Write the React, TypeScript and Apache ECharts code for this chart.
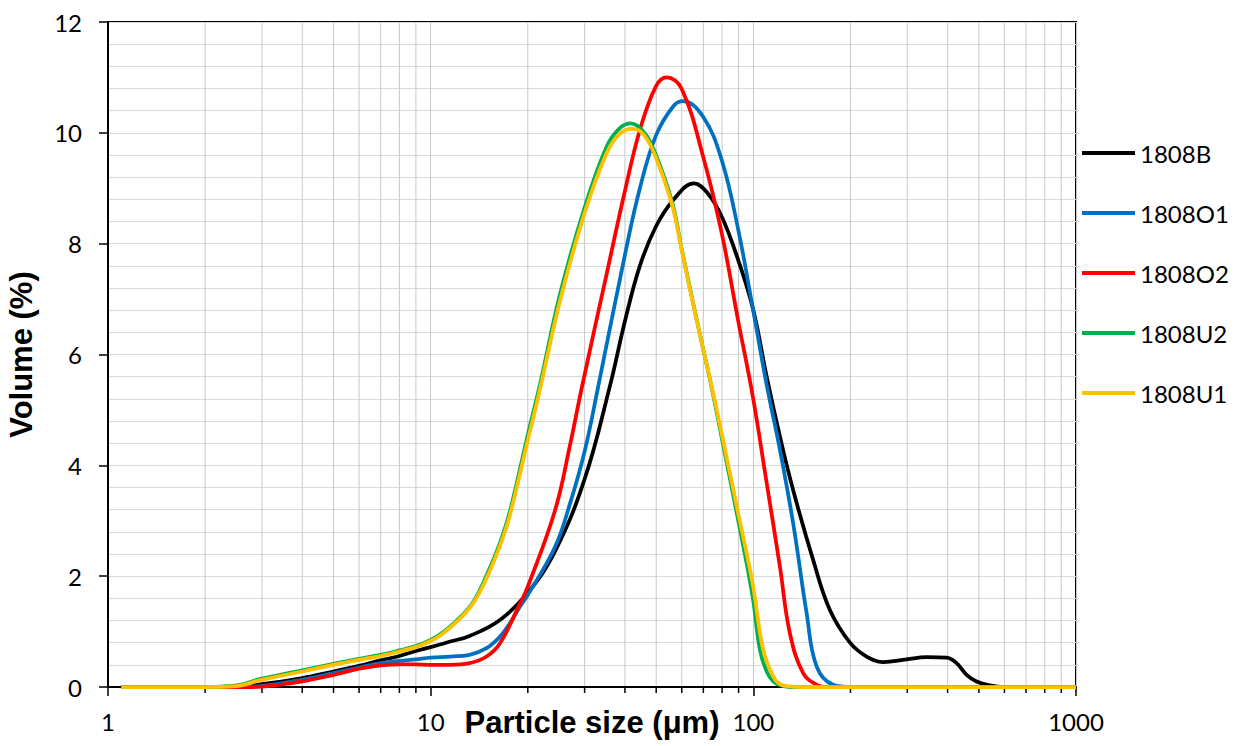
import React, { useEffect, useRef } from "react";
import * as echarts from "echarts";

// Particle size (µm) sample points and volume (%) values
const seriesNames = ["1808B", "1808O1", "1808O2", "1808U2", "1808U1"];
const seriesColors = ["#000000", "#0070C0", "#FF0000", "#00B050", "#FFC000"];

const sizes1808B = [1.1, 2.0, 2.44, 3.0, 4.0, 5.0, 6.0, 7.0, 8.0, 9.0, 10, 11.5, 13.2, 16.4, 20, 24.3, 30, 35.9, 40, 44.5, 49.9, 56.5, 65.5, 72, 79.8, 89.8, 100, 110, 120.9, 132.9, 153.3, 172.7, 199.3, 224.4, 252.7, 298.5, 344.4, 397.2, 426.6, 458.1, 492, 541, 600, 1000];
const values1808B = [0, 0, 0.01, 0.05, 0.16, 0.28, 0.38, 0.48, 0.56, 0.65, 0.72, 0.82, 0.92, 1.21, 1.7, 2.45, 3.75, 5.42, 6.6, 7.6, 8.31, 8.79, 9.09, 8.92, 8.49, 7.7, 6.8, 5.6, 4.52, 3.55, 2.29, 1.39, 0.8, 0.55, 0.45, 0.5, 0.54, 0.53, 0.43, 0.22, 0.1, 0.03, 0, 0];

const sizes1808O1 = [1.1, 2.0, 2.6, 3.0, 4.0, 5.0, 6.0, 7.0, 8.0, 9.0, 10, 11.5, 13.2, 14.9, 16.4, 17.6, 18.9, 20, 24.3, 27, 30, 33, 40, 44.5, 49.9, 56.5, 60.6, 69.9, 79.8, 89.8, 100, 110, 120.9, 132.9, 146.3, 157.1, 176.8, 200, 1000];
const values1808O1 = [0, 0, 0, 0.02, 0.13, 0.25, 0.35, 0.43, 0.47, 0.5, 0.53, 0.55, 0.58, 0.7, 0.91, 1.15, 1.45, 1.66, 2.53, 3.3, 4.25, 5.4, 7.8, 9.0, 9.95, 10.48, 10.57, 10.29, 9.51, 8.25, 6.78, 5.45, 4.28, 2.95, 1.33, 0.37, 0.04, 0, 0];

const sizes1808O2 = [1.1, 2.0, 2.8, 3.3, 4.0, 5.0, 6.0, 7.0, 8.0, 9.0, 10, 11.5, 13.2, 14.9, 16.4, 18.9, 20, 24.3, 27, 29.4, 35.1, 40, 44.5, 49.9, 53.9, 59.9, 69.9, 79.8, 89.8, 99.5, 110, 120.9, 129.8, 142.7, 157.1, 170, 1000];
const values1808O2 = [0, 0, 0, 0.03, 0.1, 0.22, 0.33, 0.39, 0.41, 0.41, 0.4, 0.4, 0.43, 0.55, 0.79, 1.5, 1.81, 3.19, 4.35, 5.4, 7.45, 8.95, 10.05, 10.84, 11.0, 10.8, 9.57, 8.19, 6.6, 5.26, 3.68, 2.17, 0.97, 0.25, 0.04, 0, 0];

const sizes1808U2 = [1.1, 2.0, 2.44, 3.0, 4.0, 5.0, 6.0, 7.0, 8.0, 9.0, 10, 10.7, 12, 13.5, 15, 16.4, 17.6, 20, 21.8, 25.2, 30, 35.1, 38.5, 41.7, 46, 49.9, 56, 59.9, 66, 69.9, 74.3, 79.8, 89.8, 99.5, 104.8, 110, 115.3, 120.9, 130, 1000];
const values1808U2 = [0, 0, 0.02, 0.15, 0.3, 0.42, 0.51, 0.58, 0.66, 0.74, 0.85, 0.95, 1.19, 1.52, 2.05, 2.6, 3.17, 4.55, 5.45, 7.1, 8.65, 9.75, 10.08, 10.17, 10.0, 9.6, 8.75, 7.92, 6.76, 6.1, 5.4, 4.5, 3.0, 1.63, 0.67, 0.28, 0.1, 0.03, 0, 0];

const sizes1808U1 = [1.1, 2.0, 2.44, 3.0, 4.0, 5.0, 6.0, 7.0, 8.0, 9.0, 10, 10.7, 12, 13.5, 15, 16.4, 17.6, 20, 21.8, 25.2, 30, 35.1, 38.5, 42.4, 46, 49.9, 56, 59.9, 66, 69.9, 74.3, 79.8, 89.8, 99.5, 107.3, 115.3, 120.9, 130, 140, 1000];
const values1808U1 = [0, 0, 0.01, 0.13, 0.28, 0.4, 0.49, 0.56, 0.64, 0.72, 0.83, 0.93, 1.17, 1.5, 2.0, 2.55, 3.1, 4.45, 5.36, 6.98, 8.55, 9.63, 9.98, 10.07, 9.95, 9.55, 8.7, 7.9, 6.75, 6.1, 5.42, 4.57, 3.13, 1.87, 0.67, 0.19, 0.05, 0.01, 0, 0];

const allSizes = [sizes1808B, sizes1808O1, sizes1808O2, sizes1808U2, sizes1808U1];
const allValues = [values1808B, values1808O1, values1808O2, values1808U2, values1808U1];

// log-axis minor gridline positions (2..9 in each decade)
const decades = [1, 10, 100];
const minorMultipliers = [2, 3, 4, 5, 6, 7, 8, 9];

export default function App() {
  const ref = useRef<HTMLDivElement>(null);

  useEffect(() => {
    if (!ref.current) return;
    const chart = echarts.init(ref.current, undefined, { renderer: "svg" });

    const minorTicks: number[][] = [];
    decades.forEach((d) => minorMultipliers.forEach((m) => minorTicks.push([d * m, 0])));

    const lineSeries = seriesNames.map((name, i) => ({
      name,
      type: "line",
      smooth: 0.4,
      symbol: "none",
      showSymbol: false,
      z: 3 + i,
      data: allSizes[i].map((s, j) => [s, allValues[i][j]]),
      lineStyle: { color: seriesColors[i], width: 3.75 },
      itemStyle: { color: seriesColors[i] },
    }));

    const option: any = {
      animation: false,
      backgroundColor: "#ffffff",
      grid: {
        left: 108,
        right: 164,
        top: 22,
        bottom: 59,
        containLabel: false,
        outerBoundsMode: "none",
        show: true,
        borderColor: "#000",
        borderWidth: 2,
        backgroundColor: "transparent",
      },
      legend: {
        orient: "vertical",
        left: 1077,
        top: 136,
        itemWidth: 53,
        itemHeight: 4,
        itemGap: 36,
        icon: "rect",
        data: seriesNames,
        textStyle: { fontFamily: "Lato", fontSize: 24, color: "#000" },
      },
      xAxis: {
        type: "log",
        logBase: 10,
        min: 1,
        max: 1000,
        interval: 1,
        name: "Particle size (μm)",
        nameLocation: "middle",
        nameGap: 20,
        nameMoveOverlap: false,
        nameTextStyle: {
          fontFamily: "Liberation Sans",
          fontWeight: "bold",
          fontSize: 31,
          color: "#000",
        },
        axisLine: { show: true, lineStyle: { color: "#000", width: 2 } },
        axisTick: { show: true, length: 9, lineStyle: { color: "#000", width: 1.5 } },
        axisLabel: {
          margin: 22,
          fontFamily: "Lato",
          fontSize: 24,
          color: "#000",
          showMinLabel: true,
          showMaxLabel: true,
          formatter: (v: number) => String(Math.round(v)),
        },
        splitLine: { show: true, lineStyle: { color: "#c8c8c8", width: 1 } },
        minorTick: { show: false },
        minorSplitLine: { show: false },
      },
      yAxis: {
        type: "value",
        min: 0,
        max: 12,
        interval: 2,
        name: "Volume (%)",
        nameLocation: "middle",
        nameGap: 71,
        nameMoveOverlap: false,
        nameTextStyle: {
          fontFamily: "Liberation Sans",
          fontWeight: "bold",
          fontSize: 31,
          color: "#000",
        },
        axisLine: { show: true, lineStyle: { color: "#000", width: 2 } },
        axisTick: { show: true, length: 9, lineStyle: { color: "#000", width: 1.5 } },
        axisLabel: { margin: 26, fontFamily: "Lato", fontSize: 24, color: "#000" },
        splitLine: { show: true, lineStyle: { color: "#d9d9d9", width: 1 } },
        minorTick: { show: false, splitNumber: 5 },
        minorSplitLine: { show: true, lineStyle: { color: "#d9d9d9", width: 1 } },
      },
      series: [
        {
          name: "minor-grid",
          type: "custom",
          silent: true,
          clip: false,
          z: 1,
          data: minorTicks,
          renderItem: (params: any, api: any) => {
            const v = api.value(0);
            const bottom = api.coord([v, 0]);
            const top = api.coord([v, 12]);
            return {
              type: "group",
              children: [
                {
                  type: "line",
                  shape: { x1: bottom[0], y1: top[1] + 1, x2: bottom[0], y2: bottom[1] - 1 },
                  style: { stroke: "#c8c8c8", lineWidth: 1 },
                },
                {
                  type: "line",
                  shape: { x1: bottom[0], y1: bottom[1], x2: bottom[0], y2: bottom[1] + 6 },
                  style: { stroke: "#000", lineWidth: 1.5 },
                },
              ],
            };
          },
        },
        ...lineSeries,
      ],
    };

    chart.setOption(option);
    return () => chart.dispose();
  }, []);

  return (
    <div
      ref={ref}
      style={{ position: "fixed", left: 0, top: 0, width: 1240, height: 746, background: "#fff" }}
    />
  );
}
